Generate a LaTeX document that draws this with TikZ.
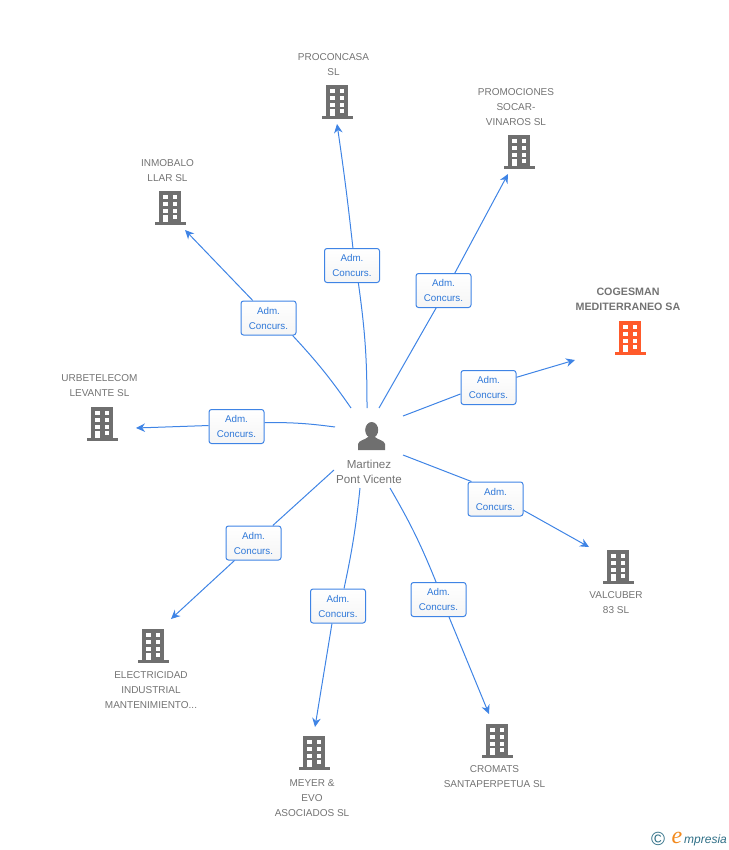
\documentclass[tikz,border=0pt]{standalone}
\usepackage{fontspec}
\setmainfont{Liberation Sans}
\newfontfamily\logofont{Liberation Serif}
\usepackage{xcolor}
\usetikzlibrary{arrows.meta}
\definecolor{linkblue}{HTML}{3F84E5}
\definecolor{boxtext}{HTML}{2F78D8}
\definecolor{bldgray}{HTML}{6F6F6F}
\definecolor{bldorange}{HTML}{FF5A2B}
\definecolor{logoteal}{HTML}{2F6F86}
\definecolor{logoorange}{HTML}{F28A1E}
\tikzset{
  firm/.style={text=black!55, font=\fontsize{10}{15}\selectfont, align=center, inner sep=0pt},
  admbox/.style={draw=linkblue, line width=1pt, rounded corners=2.5pt, top color=white, bottom color=black!4,
    minimum width=55pt, minimum height=34pt, inner sep=0pt, align=center, text=boxtext,
    font=\fontsize{9.8}{15}\selectfont},
  link/.style={linkblue, line width=1pt},
  linkarr/.style={link, -{Stealth[length=9pt,width=8.5pt]}},
  building/.pic={
    \fill[pic actions] (-11,-16) rectangle (11,15);
    \fill[pic actions] (-15.5,15) rectangle (15.5,18);
    \fill[white] (-7,-12) rectangle (-2.5,-8);
    \fill[white] (2.5,-12) rectangle (7,-8);
    \fill[white] (-7,-5) rectangle (-2.5,-1);
    \fill[white] (2.5,-5) rectangle (7,-1);
    \fill[white] (-7,2) rectangle (-2.5,6);
    \fill[white] (2.5,2) rectangle (7,6);
    \fill[white] (-7,8) rectangle (-2.5,15);
    \fill[white] (2.5,8) rectangle (7,12);
  }
}
\begin{document}
\begin{tikzpicture}[x=1pt,y=-1pt]
\useasboundingbox (0,0) rectangle (728,850);
% the person
\fill[bldgray] (371.7,430) ellipse (6.5 and 8);
\fill[bldgray] (358,450) -- (358,444) .. controls (359,440) and (365,440) .. (368,437)
  -- (375,437) .. controls (378,440) and (384,440) .. (385,444) -- (385,450) -- cycle;
\node[firm, font=\fontsize{11.6}{15}\selectfont] (person) at (369,471.5) {Martinez\\Pont Vicente};
% the firms
\pic[fill=bldgray] at (337,101) {building};
\node[firm] (proconcasa) at (333.5,64.5) {PROCONCASA\\SL};
\pic[fill=bldgray] at (519,151) {building};
\node[firm] (promociones) at (516,107) {PROMOCIONES\\SOCAR-\\VINAROS SL};
\pic[fill=bldorange] at (630,337) {building};
\node[firm, font=\fontsize{10.7}{15}\selectfont\bfseries] (cogesman) at (628,299) {COGESMAN\\MEDITERRANEO SA};
\pic[fill=bldgray] at (618,566) {building};
\node[firm] (valcuber) at (616,603) {VALCUBER\\83 SL};
\pic[fill=bldgray] at (497,740) {building};
\node[firm] (cromats) at (494.5,777) {CROMATS\\SANTAPERPETUA SL};
\pic[fill=bldgray] at (314,752) {building};
\node[firm] (meyer) at (312,798) {MEYER \&\\EVO\\ASOCIADOS SL};
\pic[fill=bldgray] at (153,645) {building};
\node[firm] (electricidad) at (151,690) {ELECTRICIDAD\\INDUSTRIAL\\MANTENIMIENTO...};
\pic[fill=bldgray] at (102,423) {building};
\node[firm] (urbetelecom) at (99.5,386) {URBETELECOM\\LEVANTE SL};
\pic[fill=bldgray] at (170,207) {building};
\node[firm] (inmobalo) at (167.5,171) {INMOBALO\\LLAR SL};
% the boxes
\node[admbox] (adm1) at (352,265.5) {Adm.\\Concurs.};
\node[admbox] (adm2) at (443.5,290.5) {Adm.\\Concurs.};
\node[admbox] (adm3) at (488.5,387.5) {Adm.\\Concurs.};
\node[admbox] (adm4) at (495.5,499) {Adm.\\Concurs.};
\node[admbox] (adm5) at (438.5,599.5) {Adm.\\Concurs.};
\node[admbox] (adm6) at (338,606) {Adm.\\Concurs.};
\node[admbox] (adm7) at (253.5,543) {Adm.\\Concurs.};
\node[admbox] (adm8) at (236.5,426.5) {Adm.\\Concurs.};
\node[admbox] (adm9) at (268.5,318) {Adm.\\Concurs.};
% free ends
\coordinate (from1) at (367,408);
\coordinate (from2) at (379,408);
\coordinate (from3) at (403,416);
\coordinate (from4) at (403,455);
\coordinate (from5) at (390,488);
\coordinate (from6) at (360,488);
\coordinate (from7) at (334,470);
\coordinate (from8) at (335,427);
\coordinate (from9) at (351,408);
\coordinate (to1) at (337,124);
\coordinate (to2) at (508,174);
\coordinate (to3) at (575,360);
\coordinate (to4) at (589,547);
\coordinate (to5) at (489,714);
\coordinate (to6) at (315,727);
\coordinate (to7) at (171,619);
\coordinate (to8) at (136,428);
\coordinate (to9) at (185,230);
% the links
\draw[link] (from1) to[bend right=4] (adm1.290);
\draw[linkarr] (adm1.87) to[bend right=1] (to1);
\draw[link] (from2) -- (adm2.247);
\draw[linkarr] (adm2.57) -- (to2);
\draw[link] (from3) -- (adm3.193);
\draw[linkarr] (adm3.20) -- (to3);
\draw[link] (from4) -- (adm4.144);
\draw[linkarr] (adm4.338) -- (to4);
\draw[link] (from5) to[bend left=4] (adm5.98);
\draw[linkarr] (adm5.301) -- (to5);
\draw[link] (from6) to[bend left=3] (adm6.71);
\draw[linkarr] (adm6.251) -- (to6);
\draw[link] (from7) -- (adm7);
\draw[linkarr] (adm7) -- (to7);
\draw[link] (from8) to[bend right=4] (adm8.8);
\draw[linkarr] (adm8.178) -- (to8);
\draw[link] (from9) to[bend right=4] (adm9.324);
\draw[linkarr] (adm9.132) -- (to9);
% the logo
\node[text=logoteal, inner sep=0pt, font=\fontsize{19}{19}\selectfont] (copyr) at (658,839) {\textcopyright};
\node[text=logoorange, inner sep=0pt, font=\logofont\itshape\fontsize{24}{24}\selectfont] (logoe) at (677,838) {e};
\node[text=logoteal, inner sep=0pt, anchor=base west, font=\itshape\fontsize{12}{14}\selectfont] (logotext) at (684,843) {mpresia};
\end{tikzpicture}
\end{document}
